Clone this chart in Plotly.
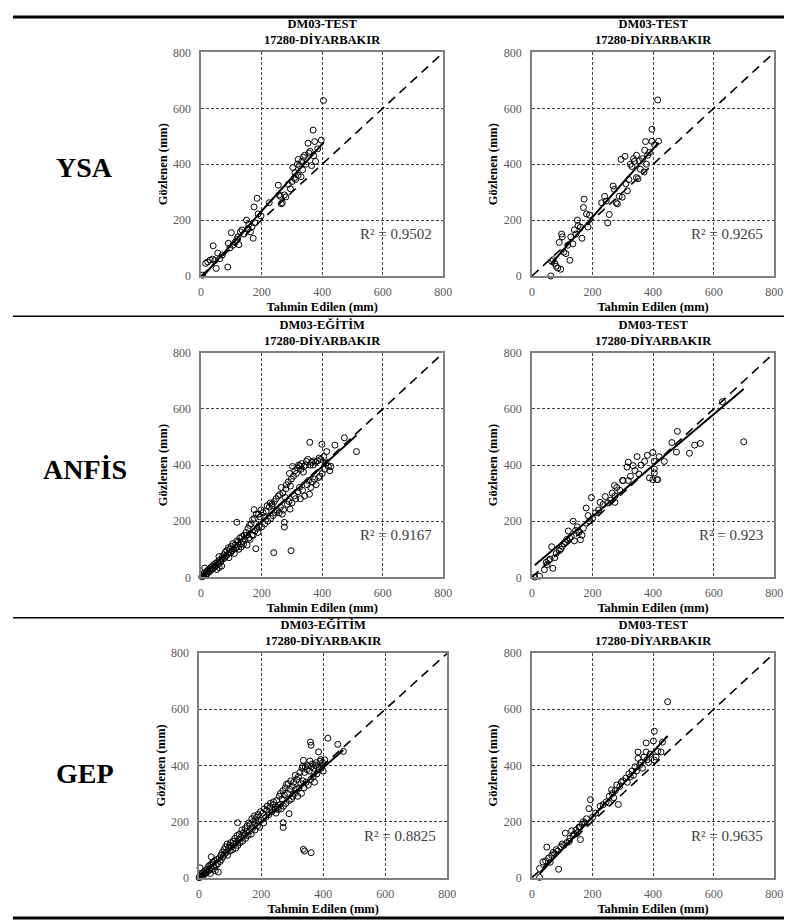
import plotly.graph_objects as go

FONT = "Liberation Serif, Times New Roman, Times, DejaVu Serif, serif"
W, H = 792, 921

# ---------------- text ----------------
panel_titles = ["DM03-TEST", "DM03-TEST", "DM03-EĞİTİM", "DM03-TEST", "DM03-EĞİTİM", "DM03-TEST"]
station = "17280-DİYARBAKIR"
row_labels = ["YSA", "ANFİS", "GEP"]
r2_values = ["0.9502", "0.9265", "0.9167", "0.923", "0.8825", "0.9635"]
x_title = "Tahmin Edilen (mm)"
y_title = "Gözlenen (mm)"
tick_vals = [0, 200, 400, 600, 800]

# ---------------- data (predicted x, observed y) ----------------
ysa_a_x = [5, 15, 22, 30, 38, 40, 45, 50, 55, 62, 70, 88, 90, 95, 100, 105, 112, 118, 122, 125, 130, 135, 142, 150,
           155, 158, 163, 168, 172, 175, 178, 185, 188, 198, 225, 255, 258, 262, 265, 268, 275, 280, 288, 295, 300,
           303, 308, 310, 312, 318, 320, 321, 325, 330, 332, 335, 338, 342, 346, 353, 356, 360, 365, 370, 372, 375,
           378, 385, 397, 404]
ysa_a_y = [3, 45, 50, 57, 60, 108, 55, 27, 82, 62, 75, 32, 117, 100, 155, 110, 120, 130, 140, 112, 158, 165, 150, 200,
           170, 185, 158, 176, 135, 247, 190, 278, 222, 215, 262, 325, 290, 285, 258, 262, 290, 283, 328, 312, 338,
           388, 350, 370, 345, 400, 360, 417, 395, 355, 410, 380, 425, 432, 400, 475, 440, 446, 395, 522, 430, 481,
           410, 455, 486, 628]

ysa_b_x = [62, 65, 70, 75, 80, 85, 90, 95, 98, 100, 105, 112, 118, 125, 128, 135, 140, 145, 150, 152, 160, 165, 170,
           172, 180, 185, 190, 230, 240, 245, 250, 255, 268, 272, 278, 282, 288, 294, 298, 307, 310, 315, 320, 325,
           330, 335, 338, 345, 345, 350, 355, 358, 365, 370, 372, 375, 378, 382, 388, 396, 396, 405, 415, 418]
ysa_b_y = [0, 52, 58, 45, 35, 28, 120, 24, 150, 140, 85, 80, 110, 56, 140, 115, 165, 150, 200, 180, 175, 135, 245,
           275, 222, 175, 218, 262, 285, 268, 190, 220, 322, 310, 262, 258, 285, 417, 282, 428, 330, 305, 345, 400,
           392, 420, 410, 352, 432, 348, 412, 382, 420, 372, 450, 481, 400, 432, 442, 482, 525, 470, 630, 482]

anfis_a_x = [2, 5, 8, 10, 12, 15, 18, 20, 22, 25, 28, 30, 32, 35, 38, 40, 42, 45, 48, 50, 52, 55, 58, 59, 60, 62, 65,
             68, 70, 72, 75, 78, 80, 82, 85, 88, 90, 92, 95, 98, 100, 102, 105, 108, 110, 112, 115, 118, 118, 120,
             122, 125, 128, 130, 132, 135, 138, 140, 142, 145, 148, 150, 152, 155, 158, 160, 162, 165, 168, 170, 172,
             175, 176, 178, 181, 182, 185, 188, 190, 192, 195, 198, 200, 205, 208, 210, 215, 218, 220, 225, 228, 230,
             234, 235, 238, 240, 242, 245, 248, 250, 255, 258, 260, 262, 265, 268, 270, 272, 275, 275, 278, 280, 282,
             285, 288, 290, 292, 294, 295, 297, 298, 300, 302, 305, 308, 310, 312, 315, 318, 320, 322, 325, 326, 328,
             330, 332, 335, 338, 340, 342, 345, 348, 350, 352, 355, 358, 359, 360, 362, 365, 368, 370, 372, 375, 378,
             380, 385, 388, 390, 392, 395, 399, 400, 405, 408, 413, 415, 420, 425, 429, 442, 473, 513]
anfis_a_y = [2, 8, 4, 15, 33, 10, 20, 12, 25, 18, 30, 22, 35, 28, 40, 32, 45, 38, 50, 42, 28, 55, 48, 74, 35, 62, 55,
             40, 72, 65, 80, 70, 90, 75, 95, 82, 105, 70, 100, 88, 110, 95, 120, 100, 85, 115, 105, 196, 130, 110,
             125, 100, 140, 120, 108, 145, 128, 118, 150, 135, 160, 150, 115, 175, 140, 185, 135, 190, 150, 205, 150,
             241, 210, 165, 102, 225, 175, 160, 225, 185, 215, 240, 180, 230, 215, 190, 235, 255, 200, 250, 265, 210,
             261, 255, 220, 88, 270, 230, 280, 240, 290, 230, 295, 250, 320, 225, 300, 240, 196, 179, 285, 315, 330,
             260, 340, 270, 370, 243, 325, 95, 350, 265, 395, 360, 290, 380, 280, 370, 390, 305, 400, 320, 397, 280,
             385, 405, 310, 375, 395, 290, 400, 413, 330, 420, 345, 296, 481, 400, 320, 410, 340, 400, 415, 350, 410,
             330, 415, 355, 425, 360, 420, 474, 370, 430, 385, 407, 448, 395, 380, 395, 471, 497, 448]

anfis_b_x = [9, 25, 41, 47, 50, 55, 60, 65, 69, 75, 80, 90, 95, 100, 105, 110, 115, 120, 125, 130, 136, 140, 144, 150,
             155, 160, 165, 170, 179, 185, 190, 196, 200, 210, 220, 225, 235, 242, 250, 260, 265, 272, 274, 274, 280,
             290, 299, 301, 314, 318, 318, 325, 334, 340, 347, 353, 360, 372, 381, 388, 399, 399, 404, 404, 404, 413,
             415, 420, 437, 462, 477, 480, 520, 537, 556, 629, 699]
anfis_b_y = [1, 4, 27, 53, 45, 60, 65, 109, 32, 70, 85, 95, 100, 110, 120, 125, 135, 165, 140, 145, 200, 130, 167, 180,
             160, 134, 150, 175, 247, 220, 200, 284, 210, 230, 240, 267, 260, 288, 265, 275, 300, 327, 267, 290, 320,
             310, 345, 345, 393, 410, 345, 360, 398, 380, 430, 368, 400, 413, 435, 354, 445, 348, 413, 386, 372, 348,
             348, 430, 413, 480, 446, 520, 442, 471, 477, 626, 483]

gep_a_x = [0, 2, 3, 5, 8, 10, 12, 15, 18, 20, 22, 25, 28, 30, 32, 35, 36, 38, 39, 40, 42, 45, 48, 50, 52, 55, 58, 60,
           62, 65, 68, 70, 72, 75, 78, 80, 82, 85, 88, 90, 92, 95, 98, 100, 102, 105, 108, 110, 112, 115, 118, 120,
           122, 124, 125, 128, 130, 132, 135, 138, 140, 142, 145, 148, 150, 152, 155, 158, 160, 162, 165, 168, 170,
           172, 175, 178, 180, 182, 185, 188, 190, 192, 195, 198, 200, 205, 208, 210, 215, 218, 220, 225, 228, 230,
           235, 238, 240, 245, 248, 250, 252, 255, 258, 260, 262, 265, 268, 270, 271, 271, 272, 275, 278, 280, 282,
           285, 288, 290, 290, 292, 295, 298, 300, 302, 305, 308, 310, 312, 315, 318, 320, 322, 325, 328, 330, 332,
           334, 335, 336, 336, 338, 340, 340, 342, 345, 348, 350, 352, 355, 357, 359, 360, 361, 361, 362, 365, 368,
           370, 372, 375, 378, 380, 382, 385, 388, 390, 392, 395, 398, 400, 405, 415, 447, 465]
gep_a_y = [0, 5, 35, 10, 3, 15, 8, 20, 12, 25, 18, 30, 22, 40, 28, 45, 15, 35, 74, 50, 30, 55, 40, 60, 25, 45, 65, 50,
           20, 70, 58, 80, 65, 90, 75, 100, 85, 110, 90, 120, 80, 105, 115, 95, 125, 110, 100, 130, 118, 140, 105,
           125, 150, 196, 115, 135, 155, 125, 145, 170, 130, 160, 150, 175, 140, 165, 185, 150, 195, 165, 190, 155,
           210, 175, 200, 220, 170, 205, 215, 185, 225, 200, 180, 235, 205, 230, 195, 245, 215, 240, 255, 225, 250,
           265, 235, 260, 270, 245, 230, 275, 250, 243, 290, 260, 300, 245, 280, 310, 179, 196, 255, 295, 320, 265,
           333, 300, 335, 228, 275, 315, 345, 280, 325, 290, 340, 300, 365, 315, 350, 290, 360, 320, 375, 335, 300,
           390, 397, 345, 101, 418, 320, 95, 375, 395, 340, 385, 400, 330, 380, 416, 483, 350, 472, 89, 395, 405,
           360, 390, 340, 400, 410, 370, 395, 448, 385, 415, 421, 395, 410, 380, 420, 497, 475, 450]

gep_b_x = [25, 25, 36, 45, 49, 55, 60, 65, 70, 75, 80, 85, 88, 95, 100, 105, 110, 115, 123, 125, 131, 135, 140, 145,
           150, 155, 158, 160, 165, 170, 175, 180, 188, 193, 200, 210, 225, 235, 245, 253, 255, 263, 265, 270, 275,
           280, 285, 290, 295, 300, 310, 315, 320, 325, 330, 335, 340, 345, 350, 350, 355, 360, 365, 370, 377, 377,
           380, 385, 390, 401, 404, 404, 410, 415, 426, 431, 448]
gep_b_y = [1, 33, 56, 60, 109, 70, 55, 80, 90, 85, 100, 95, 30, 110, 120, 115, 159, 125, 129, 140, 167, 150, 155, 170,
           160, 180, 179, 136, 190, 200, 195, 210, 246, 278, 215, 230, 255, 260, 270, 267, 290, 313, 300, 285, 310,
           330, 261, 325, 340, 345, 355, 340, 370, 360, 380, 365, 395, 380, 425, 448, 400, 410, 390, 430, 480, 448,
           420, 410, 440, 487, 522, 419, 430, 450, 448, 483, 627]

# regression line: slope, intercept
trend_slope = [1.20, 1.22, 0.98, 0.91, 0.97, 1.16]
trend_intercept = [-8, -33, 3, 35, 4, -15]

series_x = [ysa_a_x, ysa_b_x, anfis_a_x, anfis_b_x, gep_a_x, gep_b_x]
series_y = [ysa_a_y, ysa_b_y, anfis_a_y, anfis_b_y, gep_a_y, gep_b_y]

# ---------------- layout geometry (pixels: left, right, top, bottom) ----------------
boxes = [(193, 439, 38, 265), (529, 775, 38, 265),
         (193, 439, 343, 571), (529, 775, 343, 571),
         (191, 443, 648, 876), (529, 775, 648, 876)]


def px2x(p):
    return p / W


def px2y(p):
    return 1 - p / H


fig = go.Figure()
layout = dict(
    width=W, height=H, margin=dict(l=0, r=0, t=0, b=0),
    paper_bgcolor="white", plot_bgcolor="white", showlegend=False,
    font=dict(family=FONT, color="black"),
)
annotations = []
shapes = []

for i, (l, r, t, b) in enumerate(boxes):
    n = i + 1
    xa = "x" if n == 1 else f"x{n}"
    ya = "y" if n == 1 else f"y{n}"
    xkey = "xaxis" if n == 1 else f"xaxis{n}"
    ykey = "yaxis" if n == 1 else f"yaxis{n}"
    common = dict(
        range=[0, 800], tickvals=tick_vals, showline=True, mirror=True, linecolor="#7f7f7f", linewidth=1.5,
        showgrid=True, gridcolor="#404040", griddash="3px,2px", gridwidth=1.2, zeroline=False, ticks="",
        tickfont=dict(family=FONT, size=12, color="#595959"), fixedrange=True,
    )
    layout[xkey] = dict(common, domain=[px2x(l), px2x(r)], anchor=ya, ticklabelstandoff=4,
                        title=dict(text=f"<b>{x_title}</b>", font=dict(family=FONT, size=12.5, color="black"),
                                   standoff=4))
    layout[ykey] = dict(common, domain=[px2y(b), px2y(t)], anchor=xa, ticklabelstandoff=6,
                        title=dict(text=f"<b>{y_title}</b>", font=dict(family=FONT, size=12.5, color="black"),
                                   standoff=3))

    # 1:1 line
    fig.add_trace(go.Scatter(x=[0, 800], y=[0, 800], mode="lines", xaxis=xa, yaxis=ya,
                             line=dict(color="black", width=1.6, dash="9px,6px"), hoverinfo="skip"))
    # observed vs predicted
    fig.add_trace(go.Scatter(x=series_x[i], y=series_y[i], mode="markers", xaxis=xa, yaxis=ya, cliponaxis=False,
                             marker=dict(symbol="circle-open", size=6, color="black", line=dict(width=1))))
    # trend line
    xs = [min(series_x[i]), max(series_x[i])]
    ys = [trend_slope[i] * v + trend_intercept[i] for v in xs]
    fig.add_trace(go.Scatter(x=xs, y=ys, mode="lines", xaxis=xa, yaxis=ya,
                             line=dict(color="black", width=2)))

    # R² label
    annotations.append(dict(x=770, y=150, xref=xa, yref=ya, xanchor="right", yanchor="middle", showarrow=False,
                            text=f"R² = {r2_values[i]}", font=dict(family=FONT, size=15, color="#404040")))
    # panel title
    annotations.append(dict(x=px2x((l + r) / 2), y=px2y(t), xref="paper", yref="paper", xanchor="center",
                            yanchor="bottom", yshift=3, showarrow=False, align="center",
                            text=f"<b>{panel_titles[i]}</b><br><b>{station}</b>",
                            font=dict(family=FONT, size=12.5, color="black")))

# row labels
row_centers = [155, 462, 770]
for lab, yc in zip(row_labels, row_centers):
    annotations.append(dict(x=px2x(75), y=px2y(yc), xref="paper", yref="paper", showarrow=False,
                            xanchor="center", yanchor="middle", text=f"<b>{lab}</b>",
                            font=dict(family=FONT, size=28, color="black")))

# table rules
for yp, wdt in [(2, 3), (306, 1.5), (612, 1.5), (917, 3)]:
    shapes.append(dict(type="line", xref="paper", yref="paper", x0=px2x(2), x1=px2x(790),
                       y0=px2y(yp), y1=px2y(yp), line=dict(color="black", width=wdt)))

layout["annotations"] = annotations
layout["shapes"] = shapes
fig.update_layout(**layout)
fig.write_html("out.html")
